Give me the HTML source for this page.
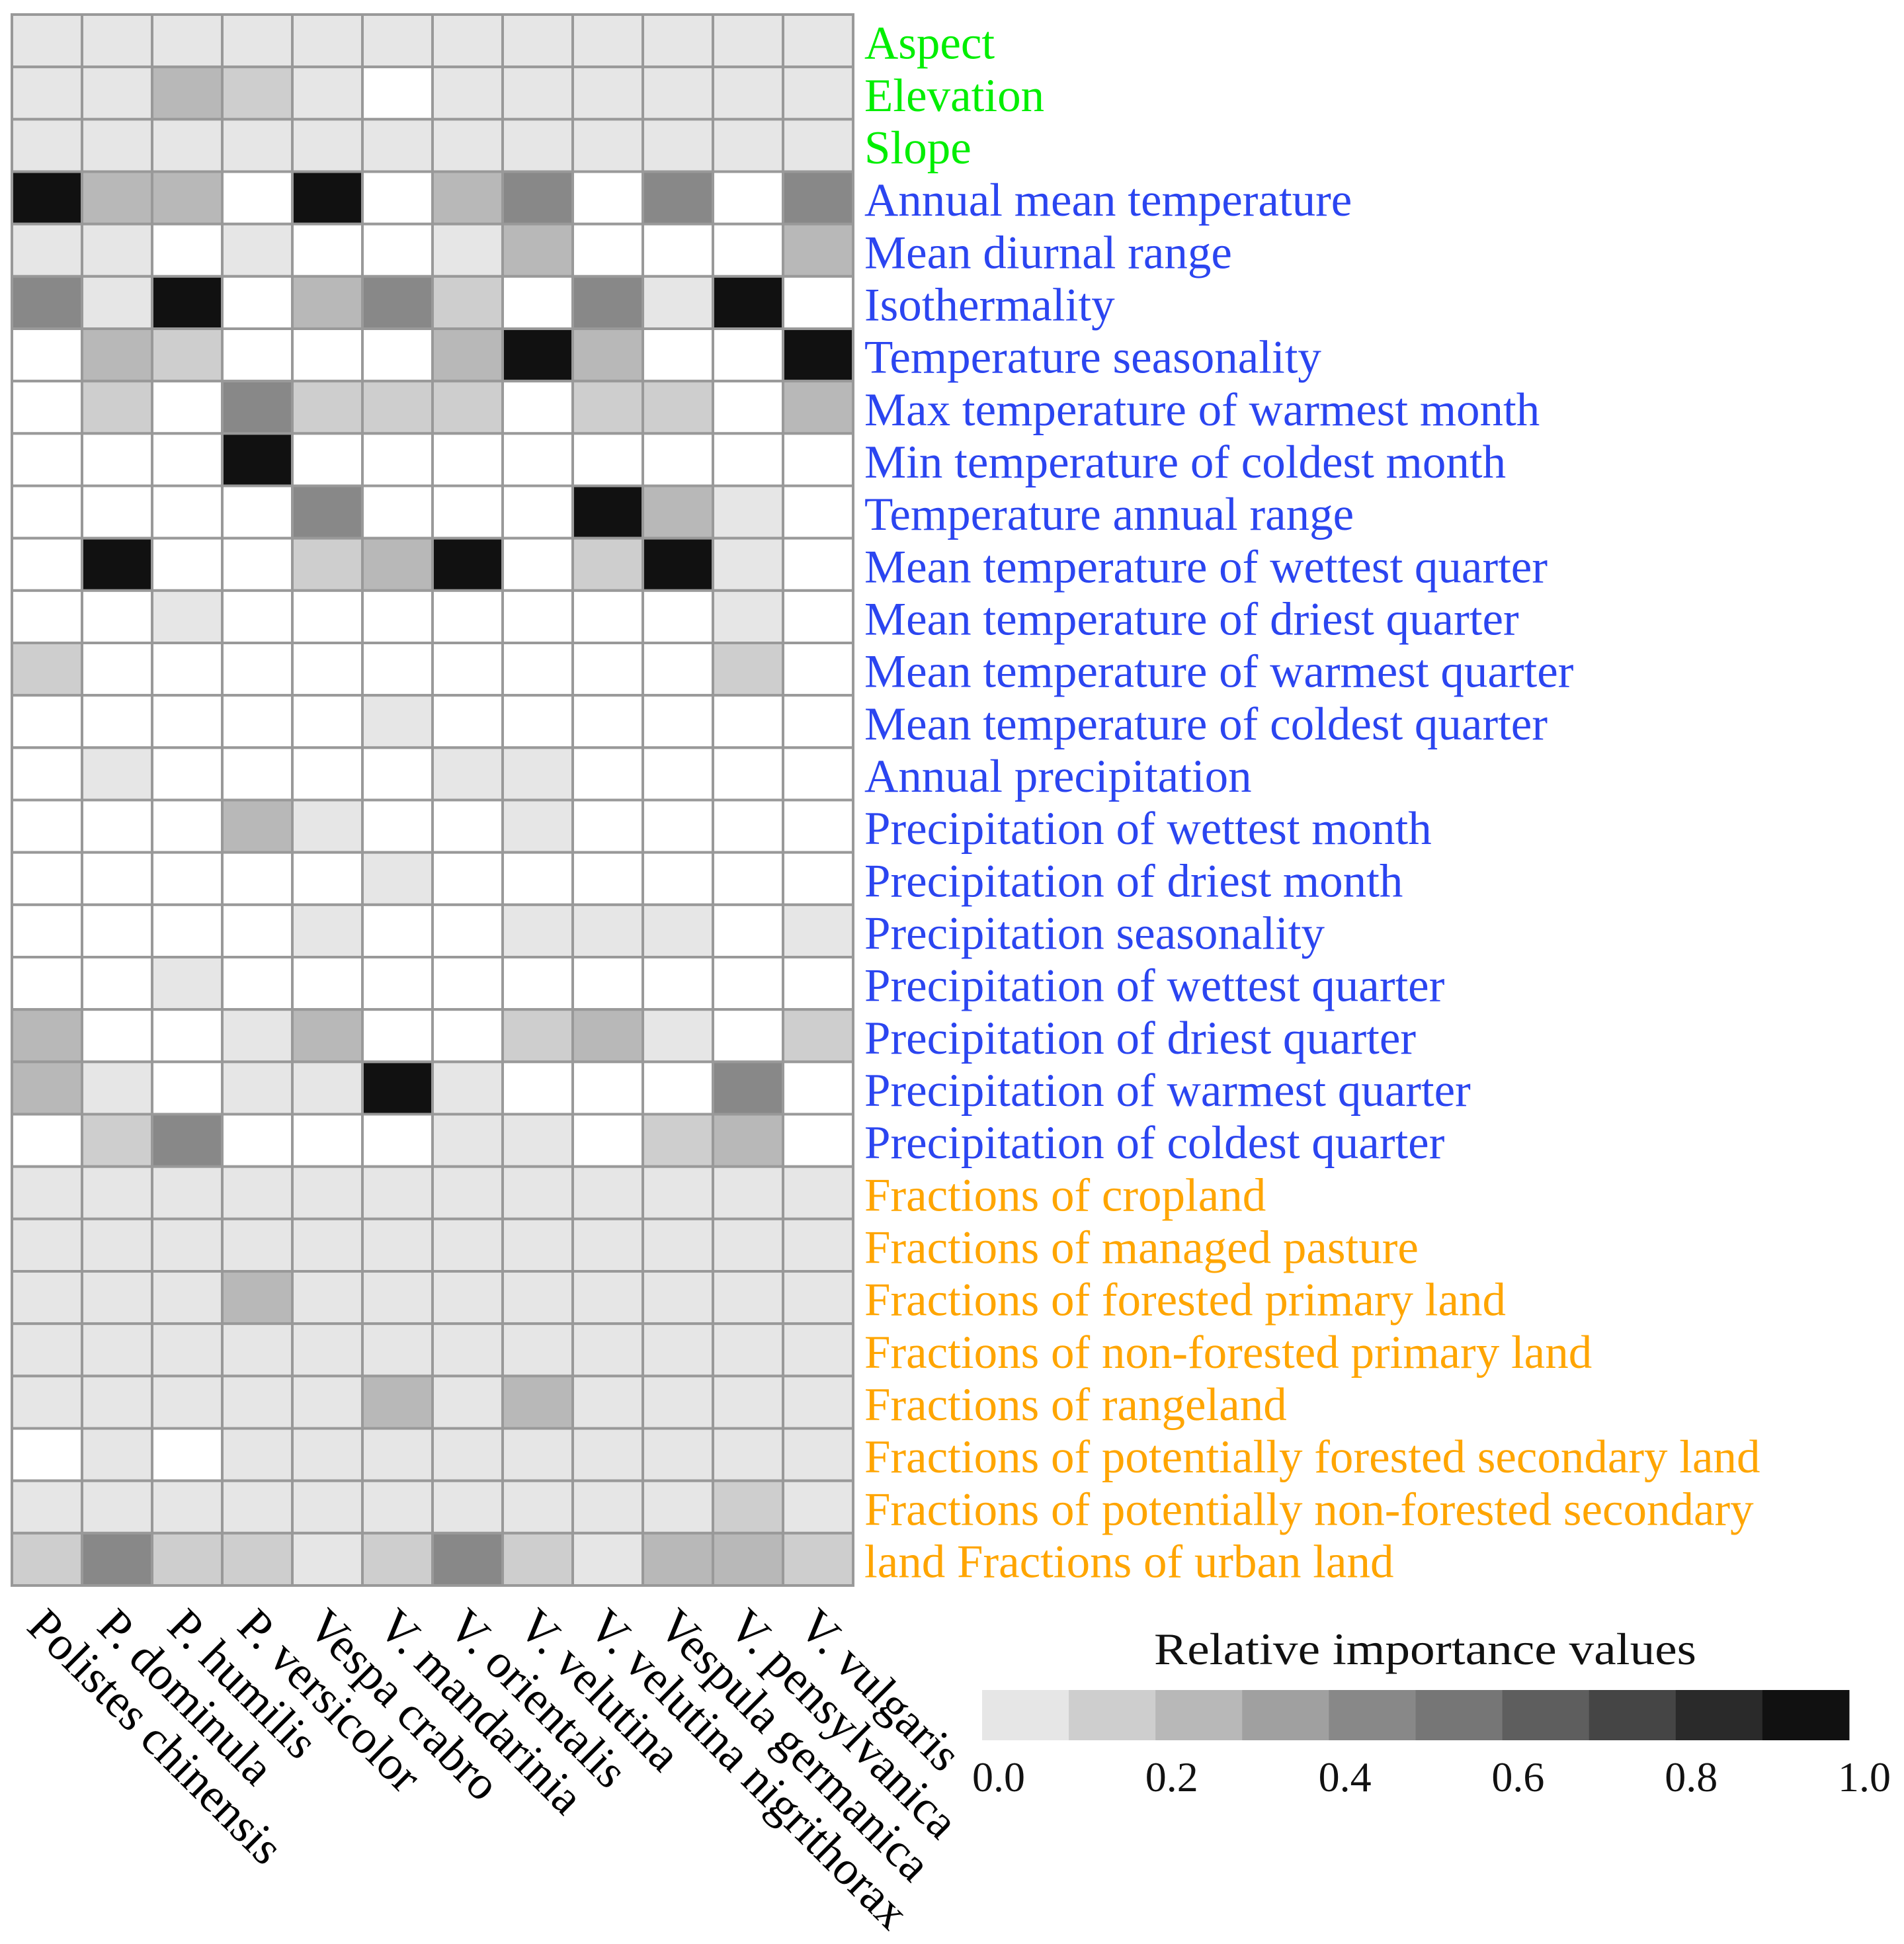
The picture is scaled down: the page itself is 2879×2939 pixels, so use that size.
<!DOCTYPE html>
<html><head><meta charset="utf-8"><style>
html,body{margin:0;padding:0;background:#fff;}
svg{display:block;}
text{font-family:"Liberation Serif",serif;}
</style></head><body>
<svg id="chart" width="2879" height="2939" viewBox="0 0 2879 2939" xmlns="http://www.w3.org/2000/svg">
<g id="cells"></g>
<g id="ylabels"></g>
<g id="xlabels"></g>
<g id="cbar"></g>
</svg>
<script>
const species = ["Polistes chinensis","P. dominula","P. humilis","P. versicolor","Vespa crabro","V. mandarinia","V. orientalis","V. velutina","V. velutina nigrithorax","Vespula germanica","V. pensylvanica","V. vulgaris"];
const variables = ["Aspect","Elevation","Slope","Annual mean temperature","Mean diurnal range","Isothermality","Temperature seasonality","Max temperature of warmest month","Min temperature of coldest month","Temperature annual range","Mean temperature of wettest quarter","Mean temperature of driest quarter","Mean temperature of warmest quarter","Mean temperature of  coldest quarter","Annual precipitation","Precipitation of wettest month","Precipitation of driest month","Precipitation seasonality","Precipitation of wettest quarter","Precipitation of driest quarter","Precipitation of warmest quarter","Precipitation of coldest quarter","Fractions of cropland","Fractions of managed pasture","Fractions of  forested primary land","Fractions of non-forested primary land","Fractions of rangeland","Fractions of  potentially forested secondary land","Fractions of  potentially non-forested secondary","land Fractions of urban land"];
const groups = ["topo","topo","topo","clim","clim","clim","clim","clim","clim","clim","clim","clim","clim","clim","clim","clim","clim","clim","clim","clim","clim","clim","land","land","land","land","land","land","land","land"];
const N = null;
const values = [
[0.05,0.05,0.05,0.05,0.05,0.05,0.05,0.05,0.05,0.05,0.05,0.05],
[0.05,0.05,0.25,0.15,0.05,N,0.05,0.05,0.05,0.05,0.05,0.05],
[0.05,0.05,0.05,0.05,0.05,0.05,0.05,0.05,0.05,0.05,0.05,0.05],
[0.95,0.25,0.25,N,0.95,N,0.25,0.45,N,0.45,N,0.45],
[0.05,0.05,N,0.05,N,N,0.05,0.25,N,N,N,0.25],
[0.45,0.05,0.95,N,0.25,0.45,0.15,N,0.45,0.05,0.95,N],
[N,0.25,0.15,N,N,N,0.25,0.95,0.25,N,N,0.95],
[N,0.15,N,0.45,0.15,0.15,0.15,N,0.15,0.15,N,0.25],
[N,N,N,0.95,N,N,N,N,N,N,N,N],
[N,N,N,N,0.45,N,N,N,0.95,0.25,0.05,N],
[N,0.95,N,N,0.15,0.25,0.95,N,0.15,0.95,0.05,N],
[N,N,0.05,N,N,N,N,N,N,N,0.05,N],
[0.15,N,N,N,N,N,N,N,N,N,0.15,N],
[N,N,N,N,N,0.05,N,N,N,N,N,N],
[N,0.05,N,N,N,N,0.05,0.05,N,N,N,N],
[N,N,N,0.25,0.05,N,N,0.05,N,N,N,N],
[N,N,N,N,N,0.05,N,N,N,N,N,N],
[N,N,N,N,0.05,N,N,0.05,0.05,0.05,N,0.05],
[N,N,0.05,N,N,N,N,N,N,N,N,N],
[0.25,N,N,0.05,0.25,N,N,0.15,0.25,0.05,N,0.15],
[0.25,0.05,N,0.05,0.05,0.95,0.05,N,N,N,0.45,N],
[N,0.15,0.45,N,N,N,0.05,0.05,N,0.15,0.25,N],
[0.05,0.05,0.05,0.05,0.05,0.05,0.05,0.05,0.05,0.05,0.05,0.05],
[0.05,0.05,0.05,0.05,0.05,0.05,0.05,0.05,0.05,0.05,0.05,0.05],
[0.05,0.05,0.05,0.25,0.05,0.05,0.05,0.05,0.05,0.05,0.05,0.05],
[0.05,0.05,0.05,0.05,0.05,0.05,0.05,0.05,0.05,0.05,0.05,0.05],
[0.05,0.05,0.05,0.05,0.05,0.25,0.05,0.25,0.05,0.05,0.05,0.05],
[N,0.05,N,0.05,0.05,0.05,0.05,0.05,0.05,0.05,0.05,0.05],
[0.05,0.05,0.05,0.05,0.05,0.05,0.05,0.05,0.05,0.05,0.15,0.05],
[0.15,0.45,0.15,0.15,0.05,0.15,0.45,0.15,0.05,0.25,0.25,0.15]
];
const cbarTicks = ["0.0","0.2","0.4","0.6","0.8","1.0"];
const cbarSteps = [0.05,0.15,0.25,0.35,0.45,0.55,0.65,0.75,0.85,0.95];

const NS = "http://www.w3.org/2000/svg";
const GX0 = 18, GX1 = 1290, GY0 = 22, GY1 = 2397;
const cw = (GX1 - GX0) / species.length, ch = (GY1 - GY0) / variables.length;
const xPos = i => GX0 + i * cw;
const yPos = j => GY0 + j * ch;
const shades = ["#e6e6e6","#cecece","#b8b8b8","#a0a0a0","#888888","#767676","#5e5e5e","#454545","#2a2a2a","#111111"];
function color(v){ if (v === null) return "#ffffff"; let k = Math.min(9, Math.max(0, Math.floor(v * 10))); return shades[k]; }
const groupColors = {topo:"#00ee00", clim:"#2b45f0", land:"#ffa500"};
function mk(tag, attrs, parent){ const e = document.createElementNS(NS, tag); for (const k in attrs) e.setAttribute(k, attrs[k]); parent.appendChild(e); return e; }

const cells = document.getElementById("cells");
values.forEach((row, j) => row.forEach((v, i) => {
  const r = mk("rect", {x: xPos(i), y: yPos(j), width: cw, height: ch, fill: color(v), stroke: "#999", "stroke-width": 4}, cells);
  
  
}));
const border = mk("rect", {x: GX0, y: GY0, width: GX1 - GX0, height: GY1 - GY0, fill: "none", stroke: "#999", "stroke-width": 4}, cells);



const yl = document.getElementById("ylabels");
variables.forEach((name, j) => {
  const t = mk("text", {x: 1307, y: yPos(j) + ch / 2 + 27, "font-size": 71, fill: groupColors[groups[j]]}, yl);
  t.textContent = name;
  
  
});

const xl = document.getElementById("xlabels");
species.forEach((name, i) => {
  const x = xPos(i) + 20, y = 2462;
  const t = mk("text", {x: x, y: y, "font-size": 72, fill: "#000", transform: `rotate(45 ${x} ${y})`}, xl);
  t.textContent = name;
  
  
});

const cb = document.getElementById("cbar");
const CB0 = 1485, CB1 = 2796, CBY = 2555, CBH = 76;
const cbx = v => CB0 + v * (CB1 - CB0);
const title = mk("text", {x: 2155, y: 2516, "font-size": 68, "text-anchor": "middle", fill: "#111", textLength: 820, lengthAdjust: "spacingAndGlyphs"}, cb);
title.textContent = "Relative importance values";


cbarSteps.forEach(v => {
  const r = mk("rect", {x: cbx(v - 0.05), y: CBY, width: (CB1 - CB0) / 10 + 0.5, height: CBH, fill: color(v)}, cb);
  
  
});
const TX0 = 1510, TX1 = 2819;
cbarTicks.forEach((lab, k) => {
  const v = parseFloat(lab);
  const t = mk("text", {x: TX0 + v * (TX1 - TX0), y: 2708, "font-size": 64, "text-anchor": "middle", fill: "#111"}, cb);
  t.textContent = lab;
  
  
});
</script>
</body></html>
